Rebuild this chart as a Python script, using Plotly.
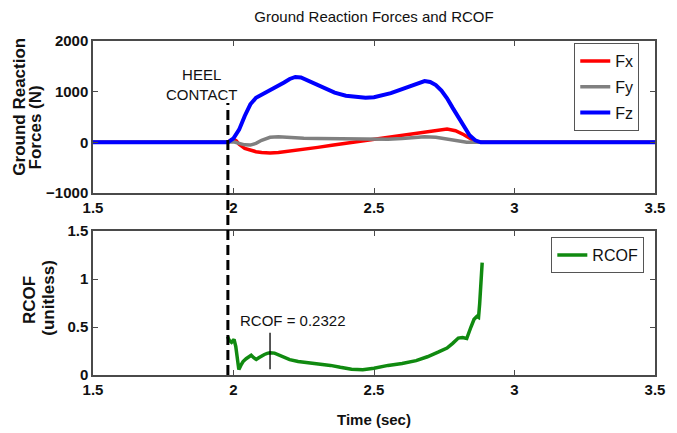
import plotly.graph_objects as go

# ---- data ----
t_fz = [1.50, 1.98, 2.00, 2.02, 2.04, 2.06, 2.08, 2.10, 2.12, 2.14, 2.16, 2.18, 2.20, 2.22, 2.24, 2.26,
        2.28, 2.30, 2.33, 2.36, 2.40, 2.44, 2.47, 2.50, 2.53, 2.56, 2.59, 2.62, 2.65, 2.68, 2.70, 2.72,
        2.74, 2.76, 2.78, 2.80, 2.82, 2.84, 2.86, 2.88, 3.50]
fz = [0, 0, 80, 250, 520, 750, 880, 940, 1000, 1050, 1100, 1180, 1250, 1290, 1280, 1230,
      1170, 1110, 1040, 980, 920, 890, 880, 890, 920, 970, 1030, 1090, 1150, 1210, 1190, 1130,
      1020, 870, 680, 490, 300, 140, 40, 0, 0]

t_fx = [1.50, 1.98, 1.99, 2.00, 2.01, 2.02, 2.04, 2.06, 2.08, 2.10, 2.13, 2.16, 2.20, 2.25, 2.30,
        2.35, 2.40, 2.45, 2.50, 2.55, 2.60, 2.65, 2.70, 2.73, 2.76, 2.79, 2.82, 2.85, 2.87, 3.50]
fx = [0, 0, 40, 60, 30, -40, -120, -160, -185, -200, -210, -200, -175, -140, -100,
      -60, -20, 20, 55, 90, 130, 180, 225, 250, 260, 230, 150, 50, 0, 0]

t_fy = [1.50, 1.98, 2.00, 2.02, 2.04, 2.06, 2.08, 2.10, 2.13, 2.16, 2.20, 2.25, 2.30, 2.35, 2.40,
        2.45, 2.50, 2.55, 2.60, 2.65, 2.68, 2.72, 2.76, 2.80, 2.83, 3.50]
fy = [0, 0, 10, -20, -50, -55, -20, 40, 100, 110, 95, 80, 75, 70, 70,
      65, 60, 60, 75, 100, 110, 100, 60, 20, 0, 0]

t_rcof = [1.979, 1.985, 1.993, 2.002, 2.008, 2.014, 2.019, 2.026, 2.034, 2.045, 2.055, 2.063, 2.072,
          2.081, 2.09, 2.10, 2.11, 2.12, 2.13, 2.146, 2.16, 2.18, 2.20, 2.23, 2.26, 2.30, 2.345,
          2.38, 2.42, 2.46, 2.50, 2.55, 2.60, 2.65, 2.69, 2.73, 2.76, 2.78, 2.80, 2.815, 2.83,
          2.845, 2.856, 2.866, 2.872, 2.876, 2.885]
rcof = [0.40, 0.36, 0.34, 0.37, 0.30, 0.15, 0.056, 0.10, 0.14, 0.17, 0.19, 0.205, 0.18,
        0.162, 0.18, 0.20, 0.214, 0.225, 0.2322, 0.228, 0.21, 0.18, 0.16, 0.14, 0.13, 0.12, 0.10,
        0.08, 0.06, 0.055, 0.07, 0.10, 0.12, 0.15, 0.19, 0.24, 0.28, 0.33, 0.385, 0.39, 0.38,
        0.50, 0.58, 0.61, 0.60, 0.74, 1.17]

heel_contact_t = 1.98
rcof_peak_t = 2.13
rcof_peak_label = "RCOF = 0.2322"

x_ticks = [1.5, 2, 2.5, 3, 3.5]
x_tick_text = ["1.5", "2", "2.5", "3", "3.5"]
y1_ticks = [-1000, 0, 1000, 2000]
y2_ticks = [0, 0.5, 1, 1.5]
y2_tick_text = ["0", "0.5", "1", "1.5"]

FONT = "Liberation Sans, Arial, sans-serif"
AX = "#4a4a4a"
TXT = "#111111"

fig = go.Figure()
fig.add_trace(go.Scatter(x=t_fx, y=fx, mode="lines", name="Fx", line=dict(color="#ff0000", width=3.5),
                         xaxis="x", yaxis="y", legend="legend", legendgroup="a"))
fig.add_trace(go.Scatter(x=t_fy, y=fy, mode="lines", name="Fy", line=dict(color="#808080", width=3.5),
                         xaxis="x", yaxis="y", legend="legend", legendgroup="b"))
fig.add_trace(go.Scatter(x=t_fz, y=fz, mode="lines", name="Fz", line=dict(color="#0000ff", width=4),
                         xaxis="x", yaxis="y", legend="legend", legendgroup="c"))
fig.add_trace(go.Scatter(x=t_rcof, y=rcof, mode="lines", name="RCOF", line=dict(color="#108a10", width=3.5),
                         xaxis="x2", yaxis="y2", legend="legend2"))

axis_common = dict(showline=True, linecolor=AX, linewidth=1.5, mirror="ticks", ticks="inside",
                   ticklen=5, tickcolor=AX, tickwidth=1.2, showgrid=False, zeroline=False,
                   tickfont=dict(family=FONT, size=15, color=TXT, weight="bold"))

fig.update_layout(
    width=677, height=433,
    margin=dict(l=93, r=13, t=41, b=58),
    paper_bgcolor="white", plot_bgcolor="white",
    xaxis=dict(domain=[0, 1], range=[1.5, 3.5], tickvals=x_ticks, ticktext=x_tick_text,
               anchor="y", **axis_common),
    yaxis=dict(domain=[0.545, 1], range=[-1000, 2000], tickvals=y1_ticks, anchor="x", **axis_common),
    xaxis2=dict(domain=[0, 1], range=[1.5, 3.5], tickvals=x_ticks, ticktext=x_tick_text,
                anchor="y2", **axis_common),
    yaxis2=dict(domain=[0, 0.431], range=[0, 1.5], tickvals=y2_ticks, ticktext=y2_tick_text,
                anchor="x2", **axis_common),
    title=dict(text="Ground Reaction Forces and RCOF", x=0.5, xref="paper", xanchor="center",
               y=1 - 17 / 433, yref="container", yanchor="middle",
               font=dict(family=FONT, size=15, color=TXT)),
    legend=dict(x=0.972, xanchor="right", y=0.994, yanchor="top", bgcolor="white",
                bordercolor="#555", borderwidth=1, tracegroupgap=2,
                font=dict(family=FONT, size=16, color=TXT)),
    legend2=dict(x=0.981, xanchor="right", y=0.413, yanchor="top", bgcolor="white",
                 bordercolor="#555", borderwidth=1,
                 font=dict(family=FONT, size=16, color=TXT)),
    showlegend=True,
)

# heel contact dashed line spanning both panels
fig.add_shape(type="line", xref="x", yref="paper", x0=heel_contact_t, x1=heel_contact_t,
              y0=0, y1=0.814, line=dict(color="black", width=3, dash="10px,5px"))
fig.add_annotation(text="HEEL<br>CONTACT", xref="x", yref="y", x=1.885, y=1150,
                   showarrow=False, font=dict(family=FONT, size=15, color=TXT),
                   xanchor="center", yanchor="middle")

# RCOF marker
fig.add_shape(type="line", xref="x2", yref="y2", x0=rcof_peak_t, x1=rcof_peak_t,
              y0=0.06, y1=0.44, line=dict(color="black", width=1.3))
fig.add_annotation(text=rcof_peak_label, xref="x2", yref="y2", x=2.21, y=0.566,
                   showarrow=False, font=dict(family=FONT, size=15, color=TXT),
                   xanchor="center", yanchor="middle")

# axis titles
ylab_font = dict(family=FONT, size=17, color=TXT, weight="bold")
fig.add_annotation(text="Ground Reaction", xref="paper", yref="paper", x=(18 - 93) / 571,
                   y=1 - (106.5 - 41) / 334, textangle=-90, showarrow=False,
                   font=ylab_font, xanchor="center", yanchor="middle")
fig.add_annotation(text="Forces (N)", xref="paper", yref="paper", x=(35 - 93) / 571,
                   y=1 - (127.5 - 41) / 334, textangle=-90, showarrow=False,
                   font=ylab_font, xanchor="center", yanchor="middle")
fig.add_annotation(text="RCOF", xref="paper", yref="paper", x=(28 - 93) / 571,
                   y=1 - (300 - 41) / 334, textangle=-90, showarrow=False,
                   font=ylab_font, xanchor="center", yanchor="middle")
fig.add_annotation(text="(unitless)", xref="paper", yref="paper", x=(47 - 93) / 571,
                   y=1 - (298 - 41) / 334, textangle=-90, showarrow=False,
                   font=ylab_font, xanchor="center", yanchor="middle")
fig.add_annotation(text="Time (sec)", xref="paper", yref="paper", x=0.5,
                   y=-(420 - 375) / 334, showarrow=False,
                   font=dict(family=FONT, size=15, color=TXT, weight="bold"),
                   xanchor="center", yanchor="middle")

fig.write_html("out.html", config={"displayModeBar": False},
               post_script="document.body.style.margin='0';")
